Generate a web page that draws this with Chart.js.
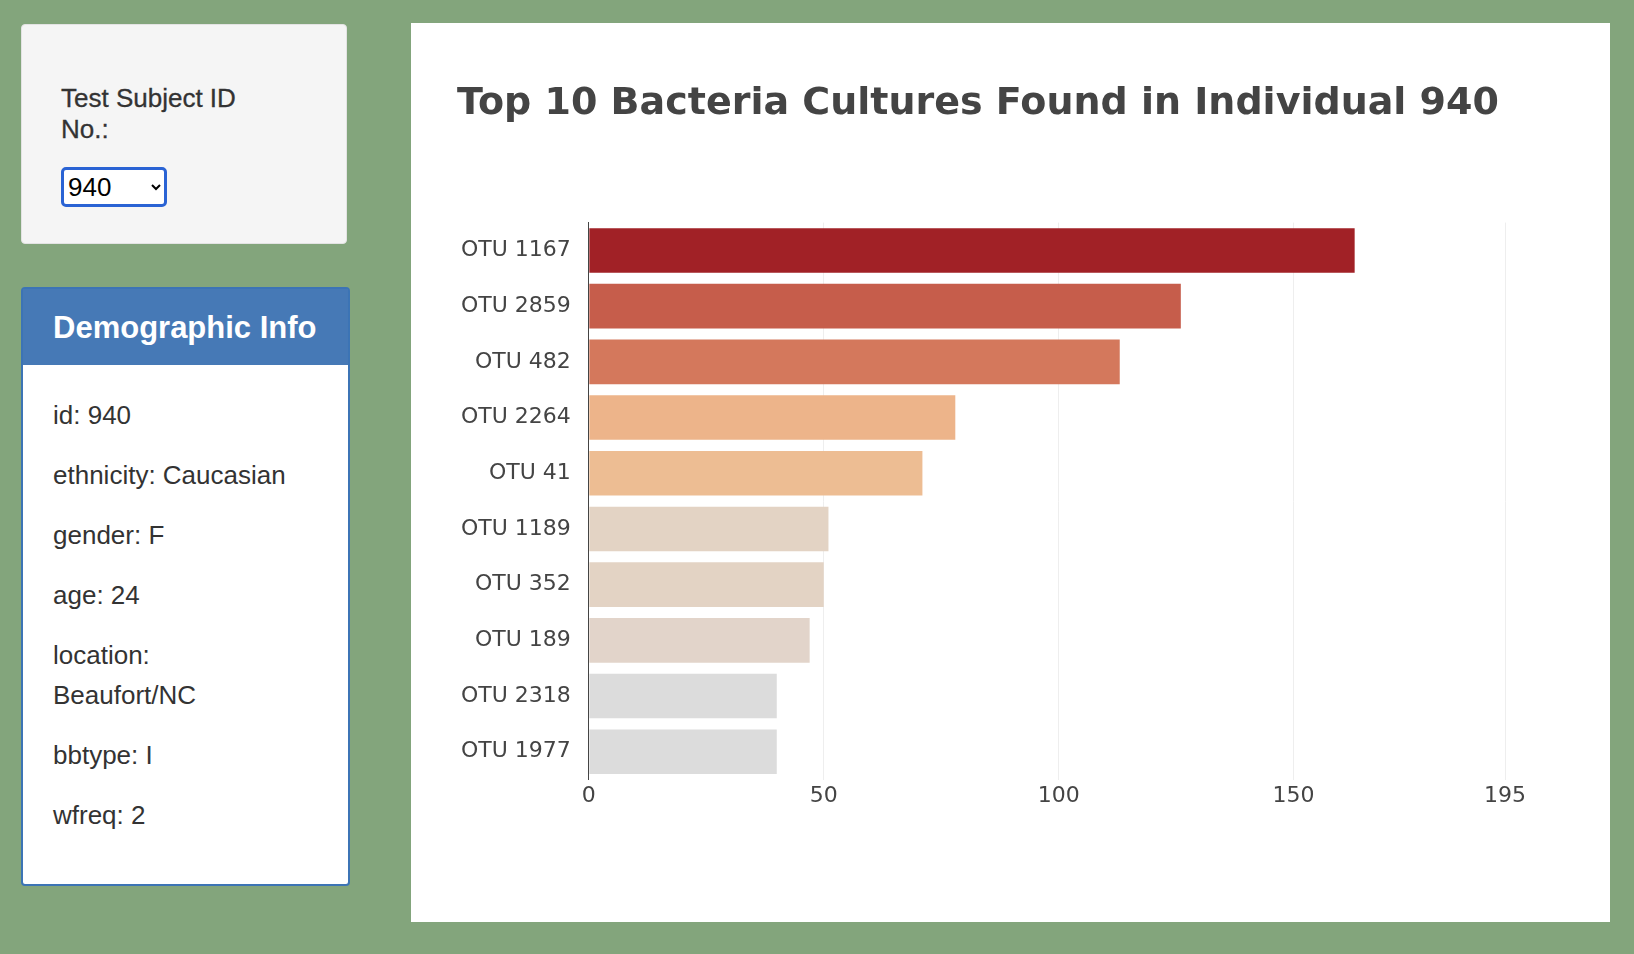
<!DOCTYPE html>
<html>
<head>
<meta charset="utf-8">
<script src="https://cdn.jsdelivr.net/npm/chart.js@4"></script>
<style>
  body { margin: 0; background: #83a57c; width: 1634px; height: 954px; position: relative; overflow: hidden;
         font-family: "Liberation Sans", Arial, sans-serif; color: #333; }
  .well { position: absolute; left: 21px; top: 24px; width: 326px; height: 220px; background: #f5f5f5;
          border: 1px solid #e3e3e3; border-radius: 4px; box-sizing: border-box; padding: 58px 0 0 39px; }
  .well h5 { margin: 0 0 22px; font-size: 26px; font-weight: normal; line-height: 31px; color: #333; -webkit-text-stroke: 0.3px #333; }
  .well select { font-size: 26px; width: 106px; height: 40px; border: 3px solid #2a63d4; border-radius: 5px; background: #fff; }
  .panel { position: absolute; left: 21px; top: 287px; width: 329px; height: 599px; background: #fff;
           border: 2px solid #3c74b5; border-radius: 4px; box-sizing: border-box; }
  .panel .head { background: #4679b6; color: #fff; height: 76px; font-size: 31px; padding: 21px 0 0 30px; box-sizing: border-box; font-weight: bold; }
  .panel .body { padding: 30px 0 0 30px; font-size: 26px; line-height: 40px; }
  .panel p { margin: 0 0 20px; }
  .chartbox { position: absolute; left: 411px; top: 23px; width: 1199px; height: 899px; background: #fff; }
</style>
</head>
<body>
<div class="well"><h5>Test Subject ID<br>No.:</h5><select><option>940</option></select></div>
<div class="panel">
  <div class="head">Demographic Info</div>
  <div class="body">
    <p>id: 940</p><p>ethnicity: Caucasian</p><p>gender: F</p><p>age: 24</p>
    <p>location:<br>Beaufort/NC</p><p>bbtype: I</p><p>wfreq: 2</p>
  </div>
</div>
<div class="chartbox"><canvas id="bar" width="1199" height="899"></canvas></div>
<script>
const otuLabels = ['OTU 1167', 'OTU 2859', 'OTU 482', 'OTU 2264', 'OTU 41', 'OTU 1189', 'OTU 352', 'OTU 189', 'OTU 2318', 'OTU 1977'];
const sampleValues = [163, 126, 113, 78, 71, 51, 50, 47, 40, 40];
const barColors = ['#a12126', '#c65d4b', '#d4785c', '#edb48a', '#edbd93', '#e3d3c4', '#e3d3c4', '#e2d4ca', '#dcdcdc', '#dcdcdc'];

const ctx = document.getElementById('bar').getContext('2d');
new Chart(ctx, {
    type: 'bar',
    data: {
        labels: otuLabels,
        datasets: [{ data: sampleValues, backgroundColor: barColors, categoryPercentage: 0.8, barPercentage: 1 }]
    },
    options: {
        indexAxis: 'y',
        responsive: false,
        animation: false,
        layout: { padding: { left: 40, right: 105, top: 0, bottom: 110 } },
        plugins: {
            legend: { display: false },
            tooltip: { enabled: false },
            title: {
                display: true,
                text: 'Top 10 Bacteria Cultures Found in Individual 940',
                color: '#444',
                font: { family: 'DejaVu Sans', size: 38, weight: 'bold' },
                padding: { top: 58, bottom: 96 }
            }
        },
        scales: {
            x: {
                min: 0, max: 195,
                ticks: { stepSize: 50, color: '#444', font: { family: 'DejaVu Sans', size: 22 } },
                grid: { color: '#eee', drawTicks: false },
                border: { display: false }
            },
            y: {
                ticks: { color: '#444', padding: 10, font: { family: 'DejaVu Sans', size: 22 } },
                grid: { display: false },
                border: { color: '#444', width: 1 }
            }
        }
    }
});
</script>
</body>
</html>
